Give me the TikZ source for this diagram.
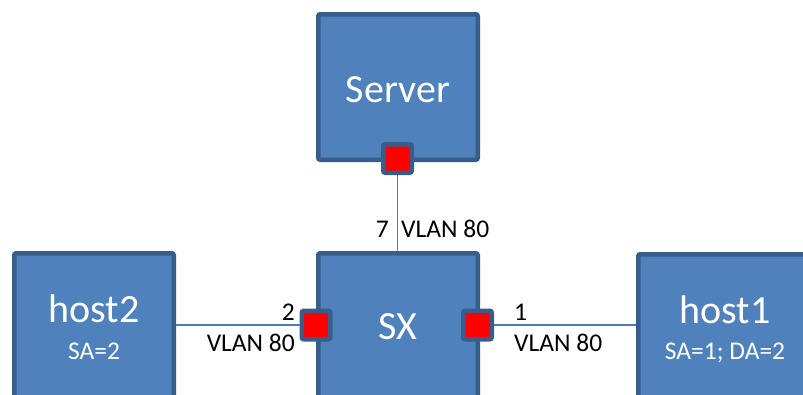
\documentclass[tikz,border=0pt]{standalone}
\usepackage{fontspec}
\setmainfont{Carlito}
\definecolor{boxfill}{HTML}{4F81BD}
\definecolor{boxline}{HTML}{385D8A}
\definecolor{wire}{HTML}{4A7EBB}
\definecolor{portred}{HTML}{FF0000}
\begin{document}
\begin{tikzpicture}[x=1pt,y=-1pt,
  devbox/.style={rectangle, draw=boxline, fill=boxfill, line width=4.5pt,
    rounded corners=2pt, inner sep=0pt, minimum width=159.5pt},
  portbox/.style={rectangle, draw=boxline, fill=portred, line width=4.5pt,
    rounded corners=2pt, inner sep=0pt, minimum size=28.5pt},
  bigtext/.style={text=white, inner sep=0pt, anchor=base, font=\fontsize{40}{48}\selectfont},
  subtext/.style={text=white, inner sep=0pt, anchor=base, font=\fontsize{25.5}{30}\selectfont},
  lbl/.style={text=black, inner sep=0pt, font=\fontsize{25.5}{30}\selectfont},
  wireline/.style={draw=wire, line width=1.6pt}]
\useasboundingbox (0,0) rectangle (803,394);
\clip (0,0) rectangle (803,394);
% devices
\node[devbox, minimum height=145.5pt] (server) at (398,87) {};
\node[devbox, minimum height=195.5pt] (sx) at (398,351) {};
\node[devbox, minimum height=195.5pt] (host2) at (94,351) {};
\node[devbox, minimum height=195.5pt, minimum width=174.5pt] (host1) at (725.5,352) {};
% ports
\node[portbox] (pserver) at (397.5,158.5) {};
\node[portbox] (p2) at (316,325) {};
\node[portbox] (p1) at (477.5,325) {};
% wires
\draw[wireline] (pserver.south) -- (pserver.south |- sx.north);
\draw[wireline] (host2.east |- p2.west) -- (p2.west);
\draw[wireline] (p1.east) -- (p1.east -| host1.west);
% texts in boxes
\node[bigtext] (tserver) at (398,102) {Server};
\node[bigtext] (tsx) at (398,339) {SX};
\node[bigtext] (thost2) at (94,322) {host2};
\node[subtext] (tsa2) at (94,359) {SA=2};
\node[bigtext] (thost1) at (725,323) {host1};
\node[subtext] (tsa1) at (725,359) {SA=1; DA=2};
% labels
\node[lbl, anchor=base east] (l7) at (389,237) {7};
\node[lbl, anchor=base west] (lv7) at (401,237) {VLAN 80};
\node[lbl, anchor=base east] (l2) at (295,320) {2};
\node[lbl, anchor=base east] (lv2) at (295,351) {VLAN 80};
\node[lbl, anchor=base west] (l1) at (514,320) {1};
\node[lbl, anchor=base west] (lv1) at (514,351) {VLAN 80};
\end{tikzpicture}
\end{document}
